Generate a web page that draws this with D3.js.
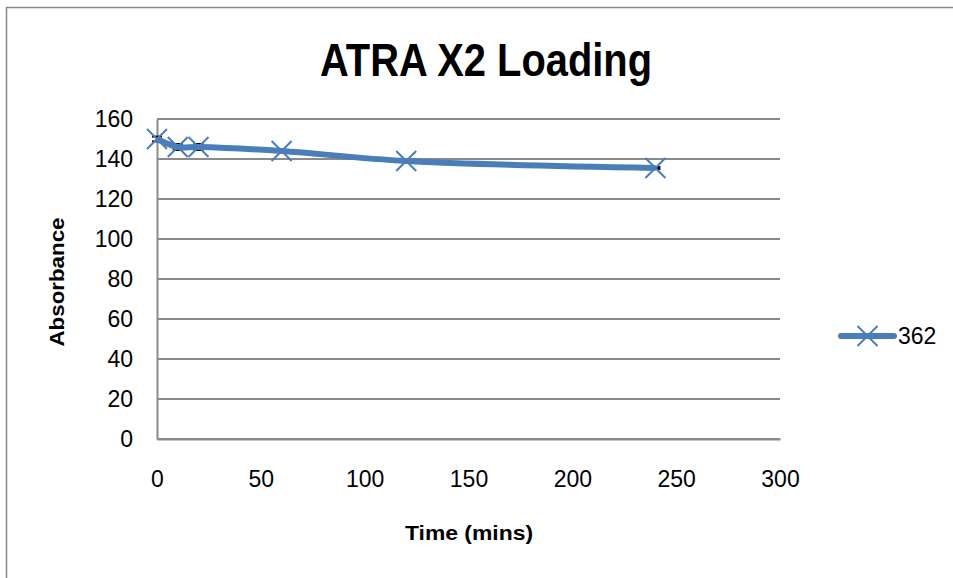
<!DOCTYPE html>
<html>
<head>
<meta charset="utf-8">
<script src="https://cdn.jsdelivr.net/npm/d3@7"></script>
<style>
  html, body { margin: 0; padding: 0; background: #fff; }
  svg { display: block; font-family: "Liberation Sans", Arial, sans-serif; }
</style>
</head>
<body>
<svg id="chart" width="953" height="578"></svg>
<script>
// series data
const times = [0, 10, 20, 60, 120, 240];
const absorbance = [150, 146, 146, 144, 139, 135.5];
const errors = [1.2, 1.5, 1.5, 0.5, 0.5, 0.5];
const seriesName = "362";

// axis ticks
const xTicks = [0, 50, 100, 150, 200, 250, 300];
const yTicks = [0, 20, 40, 60, 80, 100, 120, 140, 160];

const blue = "#4a7ebb";
const grid = "#8a8a8a";

const svg = d3.select("#chart");

// outer chart border (only top and left show in the frame)
svg.append("rect")
  .attr("x", 6.5).attr("y", 7.5)
  .attr("width", 1000).attr("height", 1000)
  .attr("fill", "none")
  .attr("stroke", "#898989")
  .attr("stroke-width", 1.5);

const x = d3.scaleLinear().domain([0, 300]).range([157, 780]);
const y = d3.scaleLinear().domain([0, 160]).range([439, 119]);

// horizontal gridlines
svg.append("g")
  .selectAll("line")
  .data(yTicks)
  .join("line")
  .attr("x1", x(0)).attr("x2", x(300))
  .attr("y1", d => y(d)).attr("y2", d => y(d))
  .attr("stroke", grid)
  .attr("stroke-width", 2);

// y axis
const yAxis = svg.append("g")
  .attr("transform", `translate(${x(0)},0)`)
  .call(d3.axisLeft(y).tickValues(yTicks).tickSize(0).tickPadding(24));
yAxis.select(".domain").attr("stroke", grid).attr("stroke-width", 2);
yAxis.selectAll("text")
  .attr("font-size", 23)
  .attr("font-family", "Liberation Sans, Arial, sans-serif")
  .attr("fill", "#000");

// x axis
const xAxis = svg.append("g")
  .attr("transform", `translate(0,${y(0)})`)
  .call(d3.axisBottom(x).tickValues(xTicks).tickSize(0).tickPadding(32));
xAxis.select(".domain").attr("stroke", grid).attr("stroke-width", 2);
xAxis.selectAll("text")
  .attr("font-size", 23)
  .attr("font-family", "Liberation Sans, Arial, sans-serif")
  .attr("fill", "#000");

const pts = times.map((t, i) => ({ t: t, v: absorbance[i], e: errors[i] }));

// small error bars, drawn under the line
const eb = svg.append("g").attr("stroke", "#000").attr("stroke-width", 2);
pts.forEach(d => {
  eb.append("line")
    .attr("x1", x(d.t)).attr("x2", x(d.t))
    .attr("y1", y(d.v - d.e)).attr("y2", y(d.v + d.e));
  [d.v - d.e, d.v + d.e].forEach(v => {
    eb.append("line")
      .attr("x1", x(d.t) - 5).attr("x2", x(d.t) + 5)
      .attr("y1", y(v)).attr("y2", y(v));
  });
});

// series line
const line = d3.line()
  .x(d => x(d.t))
  .y(d => y(d.v))
  .curve(d3.curveCatmullRom.alpha(0.5));

svg.append("path")
  .datum(pts)
  .attr("d", line)
  .attr("fill", "none")
  .attr("stroke", blue)
  .attr("stroke-width", 6)
  .attr("stroke-linejoin", "round");

// x markers
function cross(g, cx, cy, r) {
  g.append("path")
    .attr("d", `M${cx - r},${cy - r}L${cx + r},${cy + r}M${cx - r},${cy + r}L${cx + r},${cy - r}`)
    .attr("stroke", blue)
    .attr("stroke-width", 2)
    .attr("fill", "none");
}
const mk = svg.append("g");
pts.forEach(d => cross(mk, x(d.t), y(d.v), 10));

// title
svg.append("text")
  .attr("x", 486).attr("y", 76)
  .attr("text-anchor", "middle")
  .attr("font-size", 46)
  .attr("font-weight", "bold")
  .attr("textLength", 332)
  .attr("lengthAdjust", "spacingAndGlyphs")
  .text("ATRA X2 Loading");

// axis titles
svg.append("text")
  .attr("x", 469).attr("y", 540)
  .attr("text-anchor", "middle")
  .attr("font-size", 21)
  .attr("font-weight", "bold")
  .attr("textLength", 128)
  .attr("lengthAdjust", "spacingAndGlyphs")
  .text("Time (mins)");

svg.append("text")
  .attr("transform", "translate(64,282) rotate(-90)")
  .attr("text-anchor", "middle")
  .attr("font-size", 21)
  .attr("font-weight", "bold")
  .attr("textLength", 129)
  .attr("lengthAdjust", "spacingAndGlyphs")
  .text("Absorbance");

// legend
const lg = svg.append("g");
lg.append("line")
  .attr("x1", 841).attr("x2", 894)
  .attr("y1", 336).attr("y2", 336)
  .attr("stroke", blue)
  .attr("stroke-width", 6)
  .attr("stroke-linecap", "round");
cross(lg, 867.5, 336, 10);
lg.append("text")
  .attr("x", 898).attr("y", 344)
  .attr("font-size", 23)
  .text(seriesName);
</script>
</body>
</html>
